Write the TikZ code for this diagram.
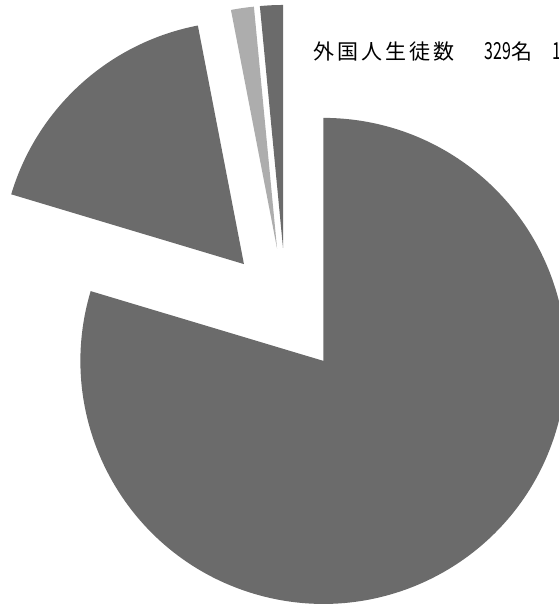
\documentclass[tikz,border=0pt]{standalone}
\usepackage{fontspec}
\newfontfamily\cjk{Noto Sans CJK JP}
\newfontfamily\cjkwide[LetterSpace=15]{Noto Sans CJK JP}
\usetikzlibrary{calc}
\definecolor{piedark}{gray}{0.42}
\definecolor{pielight}{gray}{0.68}
\tikzset{
  slicedark/.style={fill=piedark},
  slicelight/.style={fill=pielight},
}
\newcommand{\pieR}{243}
\newcommand{\pieD}{62.7}
\newcommand{\narrowdigits}[1]{\scalebox{0.76}[1.12]{#1}}
\begin{document}
\begin{tikzpicture}[x=1pt,y=1pt]
\useasboundingbox (0,0) rectangle (558,606);
\coordinate (C) at (286,295.4);
% main slice 262/329
\coordinate (A1) at ($(C)+(306.65:\pieD)$);
\fill[slicedark] (A1) -- ++(163.31:\pieR) arc[start angle=163.31, end angle=450, radius=\pieR] -- cycle;
% slice 57/329
\coordinate (A2) at ($(C)+(132.12:\pieD)$);
\fill[slicedark] (A2) -- ++(100.94:\pieR) arc[start angle=100.94, end angle=163.31, radius=\pieR] -- cycle;
% slice 5/329 light
\coordinate (A3) at ($(C)+(98.2:\pieD)$);
\fill[slicelight] (A3) -- ++(95.47:\pieR) arc[start angle=95.47, end angle=100.94, radius=\pieR] -- cycle;
% slice 5/329 dark
\coordinate (A4) at ($(C)+(92.73:\pieD)$);
\fill[slicedark] (A4) -- ++(90:\pieR) arc[start angle=90, end angle=95.47, radius=\pieR] -- cycle;
% title
\node[anchor=base west, inner sep=0pt, font=\fontsize{21}{21}\selectfont] (title) at (313,546)
  {{\cjkwide 外国人生徒数}\hspace{30pt}{\cjk\narrowdigits{329}名}\hspace{20pt}{\cjk\narrowdigits{1}}};
\end{tikzpicture}
\end{document}
